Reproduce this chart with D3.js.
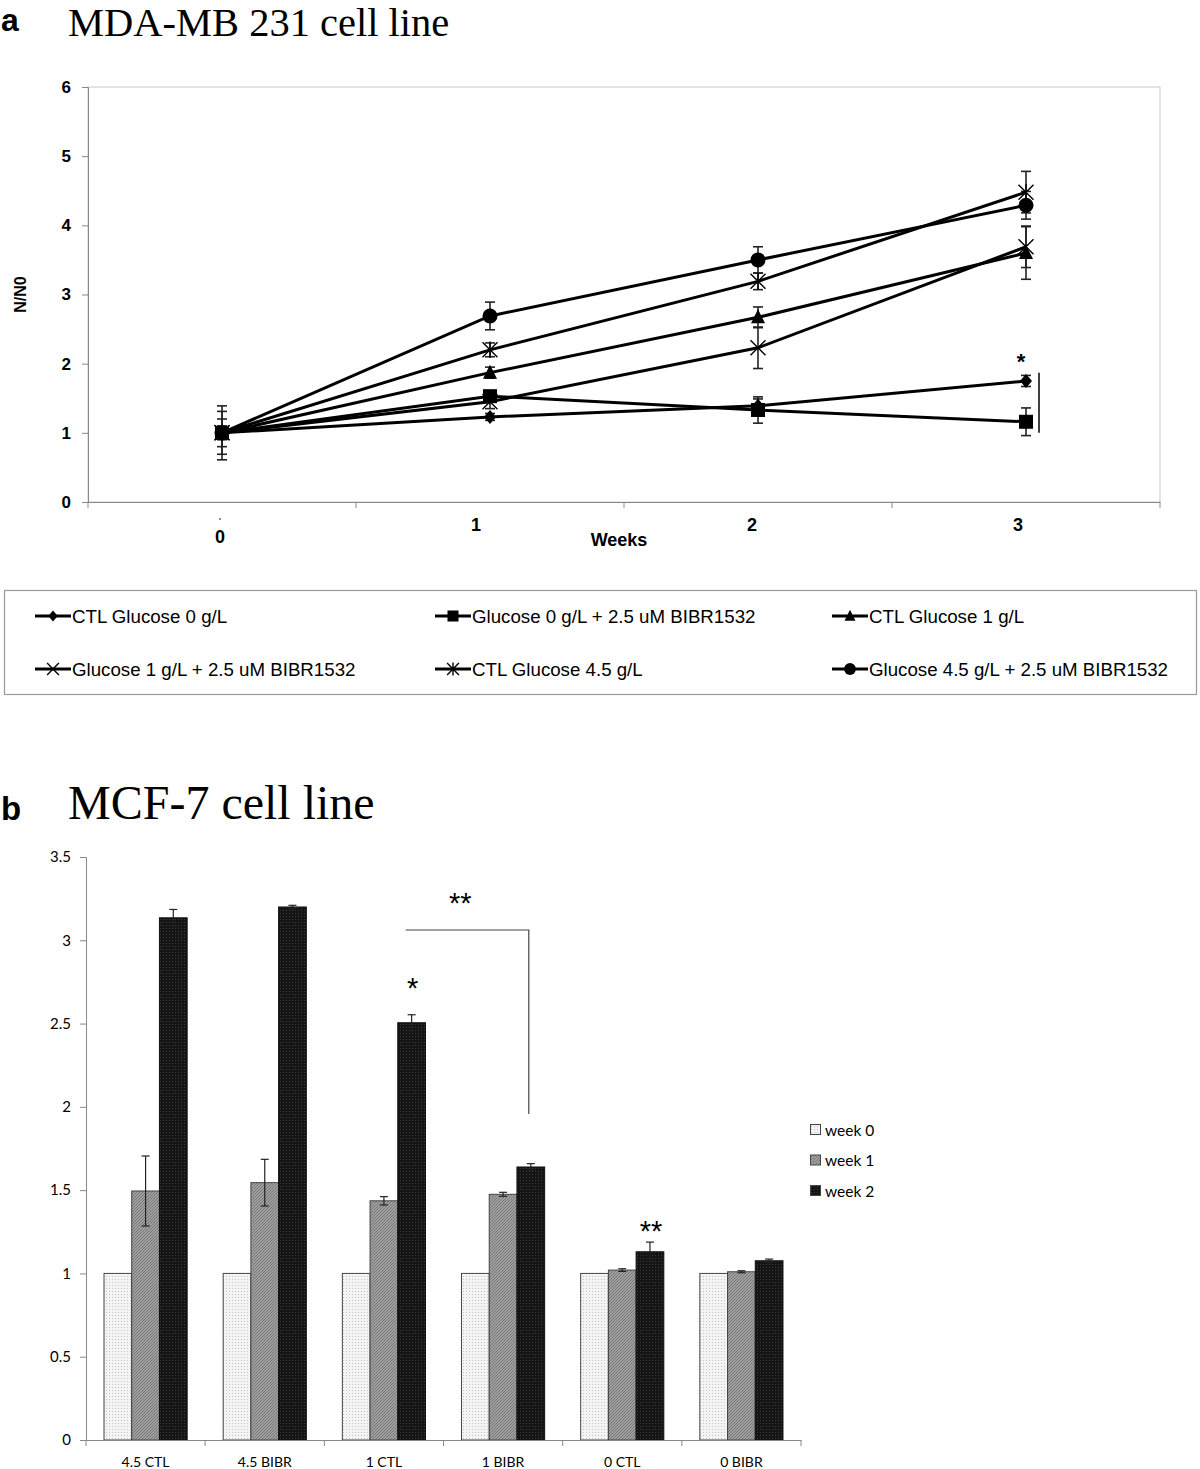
<!DOCTYPE html>
<html><head><meta charset="utf-8">
<script src="https://cdn.jsdelivr.net/npm/d3@7/dist/d3.min.js"></script>
<style>body{margin:0;background:#fff}svg{display:block}</style>
</head><body>
<script>
// ---------- Data: panel a ----------
const weeks = [0, 1, 2, 3];
const seriesNames = ["CTL Glucose 0 g/L", "Glucose 0 g/L + 2.5 uM BIBR1532", "CTL Glucose 1 g/L",
  "Glucose 1 g/L + 2.5 uM BIBR1532", "CTL Glucose 4.5 g/L", "Glucose 4.5 g/L + 2.5 uM BIBR1532"];
const seriesMarkers = ["diamond", "square", "triangle", "x", "asterisk", "circle"];
const ctl0 = [1, 1.23, 1.39, 1.75], ctl0Err = [0.05, 0.05, 0.1, 0.08];
const bibr0 = [1, 1.53, 1.33, 1.16], bibr0Err = [0.05, 0.06, 0.19, 0.2];
const ctl1 = [1, 1.87, 2.67, 3.6], ctl1Err = [0.2, 0.08, 0.15, 0.38];
const bibr1 = [1, 1.45, 2.23, 3.69], bibr1Err = [0.1, 0.1, 0.3, 0.3];
const ctl45 = [1, 2.2, 3.19, 4.48], ctl45Err = [0.31, 0.1, 0.12, 0.3];
const bibr45 = [1, 2.69, 3.5, 4.29], bibr45Err = [0.39, 0.2, 0.19, 0.2];
const yTicksA = [0, 1, 2, 3, 4, 5, 6];

// ---------- Data: panel b ----------
const groups = ["4.5 CTL", "4.5 BIBR", "1 CTL", "1 BIBR", "0 CTL", "0 BIBR"];
const barSeries = ["week 0", "week 1", "week 2"];
const week0 = [1, 1, 1, 1, 1, 1];
const week1 = [1.495, 1.545, 1.436, 1.475, 1.02, 1.01], week1Err = [0.21, 0.14, 0.025, 0.012, 0.008, 0.006];
const week2 = [3.135, 3.2, 2.505, 1.639, 1.13, 1.076], week2Err = [0.05, 0.01, 0.048, 0.02, 0.058, 0.01];
const yTicksB = [0, 0.5, 1, 1.5, 2, 2.5, 3, 3.5];

const W = 1200, H = 1469;
const svg = d3.select("body").append("svg").attr("width", W).attr("height", H);
const SANS = "'Liberation Sans', Arial, sans-serif";
const SERIF = "'Liberation Serif', 'Times New Roman', serif";
const CAL = "Lato, 'Open Sans', sans-serif";

// ================= Panel a =================
svg.append("text").attr("x", 1).attr("y", 31).attr("font-family", SANS).attr("font-weight", "bold")
  .attr("font-size", 32).text("a");
svg.append("text").attr("x", 68).attr("y", 36).attr("font-family", SERIF).attr("font-size", 40.5).text("MDA-MB 231 cell line");

const xA = d3.scaleBand().domain(weeks).range([88, 1160]);
const yA = d3.scaleLinear().domain([0, 6]).range([502, 87]);
const gA = svg.append("g");

// plot frame
gA.append("rect").attr("x", 88).attr("y", yA(6)).attr("width", 1160 - 88).attr("height", yA(0) - yA(6))
  .attr("fill", "none").attr("stroke", "#c8c8c8").attr("stroke-width", 1);

// y axis
const yAxisA = gA.append("g").attr("transform", "translate(88,0)")
  .call(d3.axisLeft(yA).tickValues(yTicksA).tickSize(6).tickFormat(d3.format("d")));
yAxisA.select(".domain").attr("stroke", "#888");
yAxisA.selectAll(".tick line").attr("stroke", "#888");
yAxisA.selectAll(".tick text").attr("font-family", SANS).attr("font-weight", "bold").attr("font-size", 17)
  .attr("fill", "#000").attr("x", -17);

// x axis
const xAxisA = gA.append("g").attr("transform", `translate(0,${yA(0)})`)
  .call(d3.axisBottom(xA).tickSize(0).tickFormat(""));
xAxisA.select(".domain").attr("stroke", "#888");
const bounds = weeks.map(w => xA(w)).concat([xA(3) + xA.bandwidth()]);
gA.selectAll(".xtickA").data(bounds).join("line")
  .attr("x1", d => d).attr("x2", d => d).attr("y1", yA(0)).attr("y2", yA(0) + 6).attr("stroke", "#888");
const xLabDy = [41, 29, 29, 29], xLabDx = [-2, -14, -6, -8];
gA.selectAll(".xlabA").data(weeks).join("text")
  .attr("x", (d, i) => xA(d) + xA.bandwidth() / 2 + xLabDx[i]).attr("y", d => yA(0) + xLabDy[d])
  .attr("text-anchor", "middle").attr("font-family", SANS).attr("font-weight", "bold").attr("font-size", 18)
  .text(d => d);
gA.append("circle").attr("cx", xA(0) + xA.bandwidth() / 2 - 2).attr("cy", yA(0) + 17).attr("r", 0.9).attr("fill", "#555");
gA.append("text").attr("x", 619).attr("y", 546).attr("text-anchor", "middle").attr("font-family", SANS)
  .attr("font-weight", "bold").attr("font-size", 18).text("Weeks");
gA.append("text").attr("transform", `translate(26,${yA(3)}) rotate(-90)`).attr("text-anchor", "middle")
  .attr("font-family", SANS).attr("font-weight", "bold").attr("font-size", 16).text("N/N0");

const seriesVals = [ctl0, bibr0, ctl1, bibr1, ctl45, bibr45];
const seriesErrs = [ctl0Err, bibr0Err, ctl1Err, bibr1Err, ctl45Err, bibr45Err];
const cx = w => xA(w) + xA.bandwidth() / 2;

function drawMarker(g, type, x, y, s) {
  const k = s / 14;
  if (type === "diamond") {
    g.append("path").attr("d", `M${x},${y - 7 * k}L${x + 6 * k},${y}L${x},${y + 7 * k}L${x - 6 * k},${y}Z`).attr("fill", "#000");
  } else if (type === "square") {
    g.append("rect").attr("x", x - 7 * k).attr("y", y - 7 * k).attr("width", 14 * k).attr("height", 14 * k).attr("fill", "#000");
  } else if (type === "triangle") {
    g.append("path").attr("d", `M${x},${y - 8 * k}L${x + 7 * k},${y + 6 * k}L${x - 7 * k},${y + 6 * k}Z`).attr("fill", "#000");
  } else if (type === "circle") {
    g.append("circle").attr("cx", x).attr("cy", y).attr("r", 7.5 * k).attr("fill", "#000");
  } else if (type === "x" || type === "asterisk") {
    const r = 7.5 * k;
    g.append("path").attr("d", `M${x - r},${y - r}L${x + r},${y + r}M${x - r},${y + r}L${x + r},${y - r}` +
      (type === "asterisk" ? `M${x},${y - r * 1.1}L${x},${y + r * 1.1}` : ""))
      .attr("stroke", "#000").attr("stroke-width", 1.4).attr("fill", "none");
  }
}

const line = d3.line().x((d, i) => cx(weeks[i])).y(d => yA(d));
// error bars
seriesVals.forEach((vals, si) => {
  vals.forEach((v, i) => {
    const e = seriesErrs[si][i], x = cx(weeks[i]);
    gA.append("line").attr("x1", x).attr("x2", x).attr("y1", yA(v + e)).attr("y2", yA(v - e)).attr("stroke", "#222").attr("stroke-width", 1.6);
    [v + e, v - e].forEach(t => gA.append("line").attr("x1", x - 5).attr("x2", x + 5).attr("y1", yA(t)).attr("y2", yA(t))
      .attr("stroke", "#222").attr("stroke-width", 1.6));
  });
});
seriesVals.forEach((vals, si) => {
  gA.append("path").datum(vals).attr("d", line).attr("fill", "none").attr("stroke", "#000").attr("stroke-width", 3);
});
seriesVals.forEach((vals, si) => {
  vals.forEach((v, i) => drawMarker(gA, seriesMarkers[si], cx(weeks[i]), yA(v), 14));
});
// significance marks
gA.append("text").attr("x", cx(3) - 5).attr("y", yA(1.75) - 12).attr("text-anchor", "middle")
  .attr("font-family", SANS).attr("font-weight", "bold").attr("font-size", 22).text("*");
gA.append("line").attr("x1", cx(3) + 13).attr("x2", cx(3) + 13).attr("y1", yA(1.87)).attr("y2", yA(1.0))
  .attr("stroke", "#000").attr("stroke-width", 1.5);

// legend a
const lgA = svg.append("g");
lgA.append("rect").attr("x", 4.5).attr("y", 590.5).attr("width", 1192).attr("height", 104)
  .attr("fill", "none").attr("stroke", "#999").attr("stroke-width", 1.2);
const legCols = [35, 435, 832], legRows = [616, 669];
seriesNames.forEach((name, i) => {
  const lx = legCols[i % 3], ly = legRows[Math.floor(i / 3)];
  lgA.append("line").attr("x1", lx).attr("x2", lx + 36).attr("y1", ly).attr("y2", ly).attr("stroke", "#000").attr("stroke-width", 3);
  drawMarker(lgA, seriesMarkers[i], lx + 18, ly, 11);
  lgA.append("text").attr("x", lx + 37).attr("y", ly + 7).attr("font-family", SANS).attr("font-size", 18.7).text(name);
});

// ================= Panel b =================
svg.append("text").attr("x", 1).attr("y", 820).attr("font-family", SANS).attr("font-weight", "bold")
  .attr("font-size", 33).text("b");
svg.append("text").attr("x", 68).attr("y", 819).attr("font-family", SERIF).attr("font-size", 48).text("MCF-7 cell line");

const defs = svg.append("defs");
const p0 = defs.append("pattern").attr("id", "pw0").attr("patternUnits", "userSpaceOnUse").attr("width", 3).attr("height", 3);
p0.append("rect").attr("width", 3).attr("height", 3).attr("fill", "#f4f4f4");
p0.append("rect").attr("x", 1).attr("y", 1).attr("width", 1).attr("height", 1).attr("fill", "#c4c4c4");
const p1 = defs.append("pattern").attr("id", "pw1").attr("patternUnits", "userSpaceOnUse").attr("width", 3).attr("height", 3);
p1.append("rect").attr("width", 3).attr("height", 3).attr("fill", "#a0a0a0");
p1.append("path").attr("d", "M0,3L3,0M-1,1L1,-1M2,4L4,2").attr("stroke", "#707070").attr("stroke-width", 0.9);
const p2 = defs.append("pattern").attr("id", "pw2").attr("patternUnits", "userSpaceOnUse").attr("width", 3).attr("height", 3);
p2.append("rect").attr("width", 3).attr("height", 3).attr("fill", "#151515");
p2.append("rect").attr("x", 1).attr("y", 1).attr("width", 1).attr("height", 1).attr("fill", "#3a3a3a");
const fills = ["url(#pw0)", "url(#pw1)", "url(#pw2)"];
const strokes = ["#444", "#444", "#111"];

const xB = d3.scaleBand().domain(groups).range([86, 801]);
const xInner = d3.scaleBand().domain(barSeries).range([0, xB.bandwidth()]).paddingInner(0).paddingOuter(0.65);
const yB = d3.scaleLinear().domain([0, 3.5]).range([1440, 857]);
const gB = svg.append("g");

const yAxisB = gB.append("g").attr("transform", "translate(86,0)")
  .call(d3.axisLeft(yB).tickValues(yTicksB).tickSize(6).tickFormat(d => d));
yAxisB.select(".domain").attr("stroke", "#888");
yAxisB.selectAll(".tick line").attr("stroke", "#888");
yAxisB.selectAll(".tick text").attr("font-family", CAL).attr("font-size", 15).attr("fill", "#000").attr("x", -15);

const barVals = [week0, week1, week2];
const barErrs = [null, week1Err, week2Err];
barVals.forEach((vals, si) => {
  gB.selectAll(".bar" + si).data(vals).join("rect")
    .attr("x", (d, i) => xB(groups[i]) + xInner(barSeries[si]))
    .attr("y", d => yB(d)).attr("width", xInner.bandwidth()).attr("height", d => yB(0) - yB(d))
    .attr("fill", fills[si]).attr("stroke", strokes[si]).attr("stroke-width", 1);
});
[1, 2].forEach(si => {
  barVals[si].forEach((v, i) => {
    const e = barErrs[si][i];
    const x = xB(groups[i]) + xInner(barSeries[si]) + xInner.bandwidth() / 2;
    gB.append("line").attr("x1", x).attr("x2", x).attr("y1", yB(v + e)).attr("y2", yB(v - e)).attr("stroke", "#222").attr("stroke-width", 1.2);
    [v + e, v - e].forEach(t => gB.append("line").attr("x1", x - 4).attr("x2", x + 4).attr("y1", yB(t)).attr("y2", yB(t))
      .attr("stroke", "#222").attr("stroke-width", 1.2));
  });
});

const xAxisB = gB.append("g").attr("transform", `translate(0,${yB(0)})`)
  .call(d3.axisBottom(xB).tickSize(0).tickFormat(""));
xAxisB.select(".domain").attr("stroke", "#888");
const bBounds = groups.map(g => xB(g)).concat([xB(groups[5]) + xB.bandwidth()]);
gB.selectAll(".xtickB").data(bBounds).join("line")
  .attr("x1", d => d).attr("x2", d => d).attr("y1", yB(0)).attr("y2", yB(0) + 6).attr("stroke", "#888");
gB.selectAll(".xlabB").data(groups).join("text")
  .attr("x", d => xB(d) + xB.bandwidth() / 2).attr("y", 1467).attr("text-anchor", "middle")
  .attr("font-family", CAL).attr("font-size", 14).text(d => d);

// significance
const w2x = i => xB(groups[i]) + xInner("week 2") + xInner.bandwidth() / 2;
gB.append("path").attr("d", `M${w2x(2) - 6},${930}H${w2x(3) - 2}V${1114}`).attr("fill", "none").attr("stroke", "#444").attr("stroke-width", 1.2);
gB.append("text").attr("x", (w2x(2) + w2x(3)) / 2 - 11).attr("y", 913).attr("text-anchor", "middle")
  .attr("font-family", SANS).attr("font-size", 29).text("**");
gB.append("text").attr("x", w2x(2) + 1).attr("y", 998).attr("text-anchor", "middle")
  .attr("font-family", SANS).attr("font-size", 29).text("*");
gB.append("text").attr("x", w2x(4) + 1).attr("y", 1241).attr("text-anchor", "middle")
  .attr("font-family", SANS).attr("font-size", 29).text("**");

// legend b
barSeries.forEach((s, i) => {
  const ly = 1130 + i * 30.5;
  gB.append("rect").attr("x", 810.5).attr("y", ly - 5.5).attr("width", 10).attr("height", 10)
    .attr("fill", fills[i]).attr("stroke", "#444").attr("stroke-width", 1);
  gB.append("text").attr("x", 825).attr("y", ly + 5.5).attr("font-family", CAL).attr("font-size", 15.5).text(s);
});
</script>
</body></html>
